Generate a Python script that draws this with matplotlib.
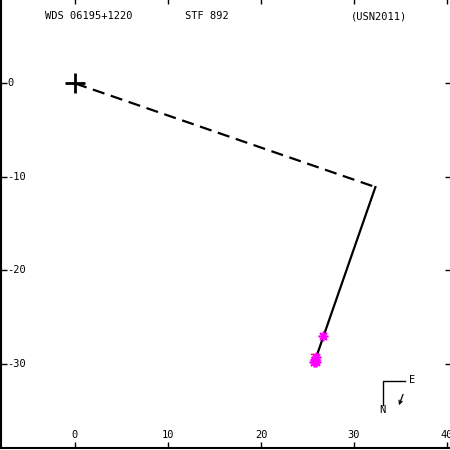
import matplotlib
matplotlib.use("Agg")
import matplotlib.pyplot as plt

# data
origin = (0.0, 0.0)
path_x = [0.0, 32.3]
path_y = [0.0, -11.1]
orbit_x = [32.3, 25.8]
orbit_y = [-11.1, -29.7]
obs_x = [26.7, 25.9, 25.8, 25.7, 25.9]
obs_y = [-27.0, -29.3, -29.6, -29.8, -29.8]
xticks = [0, 10, 20, 30, 40]
yticks = [0, -10, -20, -30]
title_left = "WDS 06195+1220"
title_mid = "STF 892"
title_right = "(USN2011)"

fig = plt.figure(figsize=(4.5, 4.5), dpi=100)
ax = fig.add_axes([1/450, 2/450, 1, 1])
# px mapping: px = 75 + 9.3*x ; py(from top) = 85 - 9.3*y
x0 = (1 - 75) / 9.3
x1 = (451 - 75) / 9.3
ybot = (85 - 448) / 9.3
ytop = (85 - 0) / 9.3
ax.set_xlim(x0, x1)
ax.set_ylim(ybot, ytop)

ax.plot(path_x, path_y, color="black", lw=1.6, dashes=(5.5, 3.0))
ax.plot(orbit_x, orbit_y, color="black", lw=1.6)
ax.plot([origin[0]], [origin[1]], marker="+", color="black", ms=15, mew=2)
ax.plot([25.4, 26.1], [-29.0, -29.0], color="red", lw=1)
ax.plot(obs_x, obs_y, ls="none", marker=(8, 2, 0), color="magenta", ms=7, mew=1.2)

for s in ["top", "right"]:
    ax.spines[s].set_visible(False)
for s in ["left", "bottom"]:
    ax.spines[s].set_linewidth(1.5)
ax.set_xticks(xticks)
ax.set_yticks(yticks)
ax.set_xticklabels([])
ax.set_yticklabels([])
ax.tick_params(direction="in", length=4, width=1, top=True, right=True)

fs = 7.5
ff = "DejaVu Sans Mono"
for t in xticks:
    ax.text(t, ybot + 13 / 9.3, str(t), ha="center", va="center", fontsize=fs, family=ff)
for t in yticks:
    ax.text(x0 + 6 / 9.3, t, str(t), ha="left", va="center", fontsize=fs, family=ff)

def px(xp, yp):
    return ((xp - 75) / 9.3, (85 - yp) / 9.3)

ax.text(*px(45, 18), title_left, ha="left", va="center", fontsize=fs, family=ff)
ax.text(*px(185, 18), title_mid, ha="left", va="center", fontsize=fs, family=ff)
ax.text(*px(351, 18), title_right, ha="left", va="center", fontsize=fs, family=ff)

# compass
a = px(383, 405); b = px(383, 381); c = px(405, 381)
ax.plot([a[0], b[0], c[0]], [a[1], b[1], c[1]], color="black", lw=1)
ax.text(*px(412, 380), "E", ha="center", va="center", fontsize=fs, family=ff)
ax.text(*px(382, 410), "N", ha="center", va="center", fontsize=fs, family=ff)
s = px(404, 392); e = px(398, 408)
ax.annotate("", xy=e, xytext=s, arrowprops=dict(arrowstyle="->", lw=0.9, color="black", mutation_scale=6))

fig.savefig("out.png", dpi=100)
